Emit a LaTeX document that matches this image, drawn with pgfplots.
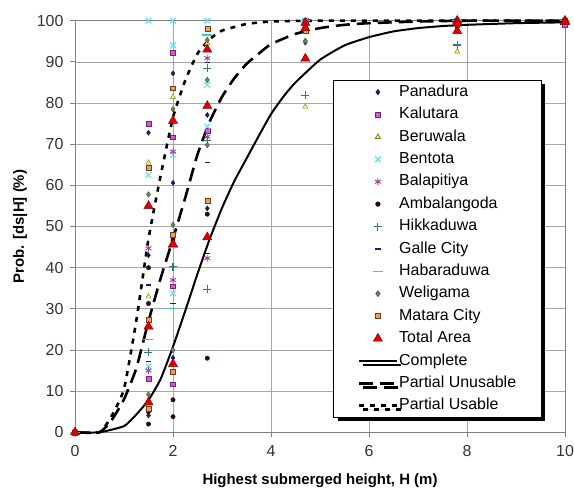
\documentclass[border=0pt]{standalone}
\usepackage{fontspec}
\setmainfont{Liberation Sans}
\usepackage{pgfplots}
\pgfplotsset{compat=1.18}
\usetikzlibrary{shadows}
\definecolor{gridGrey}{HTML}{A6A6A6}
\definecolor{axisGrey}{HTML}{808080}
\definecolor{cPanadura}{HTML}{1A1A66}
\definecolor{cKalutaraD}{HTML}{7A1F7A}
\definecolor{cKalutaraF}{HTML}{D05CD0}
\definecolor{cBeruwalaD}{HTML}{7A7A20}
\definecolor{cBeruwalaF}{HTML}{F2F07A}
\definecolor{cBentota}{HTML}{55E3F0}
\definecolor{cBalapitiya}{HTML}{9A3A9A}
\definecolor{cAmbalangoda}{HTML}{2A0A0A}
\definecolor{cHikkaduwa}{HTML}{2E7F70}
\definecolor{cGalle}{HTML}{1A1A80}
\definecolor{cHabaraduwa}{HTML}{3CC8D0}
\definecolor{cWeligama}{HTML}{4A5E3A}
\definecolor{cMataraD}{HTML}{7A3A10}
\definecolor{cMataraF}{HTML}{E8A060}
\definecolor{cTotalD}{HTML}{8A0000}
\definecolor{cTotalF}{HTML}{E00000}

\pgfplotsset{
  ptleg/.style={legend image code/.code={\draw[##1] plot[only marks] coordinates {(19bp,0bp)};}},
  lnleg/.style={legend image code/.code={\draw[##1] (0bp,0bp) -- (38bp,0bp);}},
}

\begin{document}
\begin{tikzpicture}
  \begin{axis}[
    scale only axis,
    width=490bp,
    height=411.6bp,
    xmin=0, xmax=10,
    ymin=0, ymax=100,
    xtick={0,2,4,6,8,10},
    ytick={0,10,...,100},
    axis lines=box,
    tick pos=left,
    tick align=outside,
    major tick length=5bp,
    tick style={draw=axisGrey, line width=0.8pt},
    axis line style={draw=axisGrey, line width=0.8pt},
    grid=major,
    major grid style={draw=gridGrey, line width=0.7pt},
    /pgf/number format/assume math mode=true,
    tick label style={font=\fontsize{16}{18}\selectfont, text=black!80},
    xticklabel style={yshift=-5bp},
    yticklabel style={xshift=-3bp},
    xlabel={\textbf{Highest submerged height, H (m)}},
    ylabel={\textbf{Prob. [ds|H] (\%)}},
    xlabel style={font=\fontsize{15}{17}\selectfont, at={(axis description cs:0.5,-0.1166)}, anchor=center},
    ylabel style={font=\fontsize{15}{17}\selectfont, at={(axis description cs:-0.1122,0.5)}, anchor=center},
    clip=false,
    legend cell align=left,
    legend style={
      at={(axis description cs:0.527,0.856)},
      anchor=north west,
      draw=black, line width=0.8pt, fill=white,
      drop shadow={shadow xshift=4bp, shadow yshift=-4bp, fill=black, opacity=1},
      font=\fontsize{16}{18}\selectfont,
      inner xsep=24bp, inner ysep=4bp,
      row sep=6.9bp,
      nodes={inner xsep=1bp, inner ysep=0bp, text height=12bp, text depth=3.5bp},
    },
  ]
    % Panadura
    \addplot[ptleg, only marks, mark=diamond*, mark size=2.6bp, draw=cPanadura, fill=cPanadura]
      coordinates {(0,0) (1.5,72.8) (1.5,43) (1.5,4.1) (2,87.2) (2,60.6) (2,18.1) (2.7,77.1) (2.7,54.4) (4.7,94.7) (4.7,100) (7.8,100) (10,100)};
    \addlegendentry{Panadura}
    % Kalutara
    \addplot[ptleg, only marks, mark=square*, mark size=2.4bp, draw=cKalutaraD, fill=cKalutaraF]
      coordinates {(0,0) (1.5,75) (1.5,13.1) (2,92.2) (2,71.7) (2,35.5) (2,11.7) (2.7,73.2) (4.7,100) (7.8,99) (10,99)};
    \addlegendentry{Kalutara}
    % Beruwala
    \addplot[ptleg, only marks, mark=triangle*, mark size=3bp, draw=cBeruwalaD, fill=cBeruwalaF]
      coordinates {(0,0) (1.5,65.5) (1.5,33) (1.5,6.6) (2,81.5) (2,46.3) (2.7,94.5) (4.7,95) (4.7,79.1) (7.8,92.5) (10,100)};
    \addlegendentry{Beruwala}
    % Bentota
    \addplot[ptleg, only marks, mark=x, mark size=4bp, draw=cBentota, line width=1.1pt]
      coordinates {(0,0) (1.5,100) (1.5,62.5) (1.5,16) (2,100) (2,94) (2,67.4) (2,33.8) (2.7,100) (2.7,84.4) (2.7,74.3) (4.7,100) (7.8,100) (10,100)};
    \addlegendentry{Bentota}
    % Balapitiya
    \addplot[ptleg, only marks, mark=asterisk, mark size=3.4bp, draw=cBalapitiya, line width=0.9pt]
      coordinates {(0,0) (1.5,44.7) (1.5,15) (2,68.2) (2,37) (2.7,90.9) (2.7,71.8) (2.7,42.3) (4.7,100) (7.8,100) (10,100)};
    \addlegendentry{Balapitiya}
    % Ambalangoda
    \addplot[ptleg, only marks, mark=*, mark size=2.2bp, draw=cAmbalangoda, fill=cAmbalangoda]
      coordinates {(0,0) (1.5,40) (1.5,31.3) (1.5,5) (1.5,2) (2,46.7) (2,7.9) (2,3.8) (2.7,53) (2.7,18) (4.7,98.5) (7.8,100) (10,100)};
    \addlegendentry{Ambalangoda}
    % Hikkaduwa
    \addplot[ptleg, only marks, mark=+, mark size=4bp, draw=cHikkaduwa, line width=1.1pt]
      coordinates {(0,0) (1.5,19.4) (2,40.2) (2.7,88.4) (2.7,70.9) (2.7,34.7) (4.7,81.9) (7.8,94.1) (10,100)};
    \addlegendentry{Hikkaduwa}
    % Galle City
    \addplot[ptleg, only marks, mark=-, mark size=2.6bp, draw=cGalle, line width=1.5pt]
      coordinates {(0,0) (1.5,35.8) (1.5,17.2) (2,31.3) (2.7,89.9) (2.7,65.5) (2.7,43.5) (4.7,100) (7.8,100) (10,100)};
    \addlegendentry{Galle City}
    % Habaraduwa
    \addplot[ptleg, only marks, mark=-, mark size=5bp, draw=cHabaraduwa, line width=1.3pt]
      coordinates {(0,0) (1.5,22.6) (2,45) (2,30.1) (2.7,96.5) (4.7,100) (7.8,100) (10,100)};
    \addlegendentry{Habaraduwa}
    % Weligama
    \addplot[ptleg, only marks, mark=diamond*, mark size=2.8bp, draw=cWeligama, fill=cWeligama!80]
      coordinates {(0,0) (1.5,57.8) (1.5,9.2) (2,78.5) (2,50.4) (2,20) (2.7,95.3) (2.7,85.6) (2.7,69.8) (4.7,95.1) (7.8,100) (10,100)};
    \addlegendentry{Weligama}
    % Matara City
    \addplot[ptleg, only marks, mark=square*, mark size=2.4bp, draw=cMataraD, fill=cMataraF]
      coordinates {(0,0) (1.5,64.3) (1.5,27.3) (1.5,5.8) (2,83.6) (2,48) (2,14.7) (2.7,98.1) (2.7,56.3) (4.7,97.5) (7.8,99) (10,100)};
    \addlegendentry{Matara City}
    % Total Area
    \addplot[ptleg, only marks, mark=triangle*, mark size=5.2bp, draw=cTotalD, fill=cTotalF, line width=0.5pt]
      coordinates {(0,0) (1.5,55) (1.5,25.7) (1.5,7.3) (2,75.7) (2,45.7) (2,16.6) (2.7,93) (2.7,79.3) (2.7,47.4) (4.7,99.5) (4.7,98.2) (4.7,90.8) (7.8,100) (7.8,99.3) (7.8,97.5) (10,100) (10,99.7)};
    \addlegendentry{Total Area}
    % Complete
    \addplot[lnleg, black, line width=2pt, no marks, smooth, tension=0.3]
      coordinates {(0,0) (0.5,0) (1,1.5) (1.25,4.3) (1.5,7.8) (1.75,13) (2,20.8) (2.25,29.5) (2.5,38.5) (2.75,47) (3,54.5) (3.25,61) (3.5,66.5) (3.75,72) (4,77.3) (4.25,81.5) (4.5,85) (5,90.5) (5.5,94) (6,96) (6.5,97.4) (7,98.2) (7.5,98.7) (8,99) (9,99.4) (10,99.6)};
    \addlegendentry{Complete}
    % Partial Unusable
    \addplot[lnleg, black, line width=2.6pt, no marks, dash pattern=on 14bp off 7bp, smooth, tension=0.3]
      coordinates {(0,0) (0.5,0) (0.75,3) (1,8) (1.25,15.5) (1.5,27) (1.75,37.5) (2,47) (2.25,57) (2.5,67.5) (2.75,75.5) (3,81.5) (3.25,86) (3.5,89.5) (3.75,92) (4,94.3) (4.5,96.8) (5,98.2) (5.5,99) (6,99.4) (7,99.8) (8,100) (10,100)};
    \addlegendentry{Partial Unusable}
    % Partial Usable
    \addplot[lnleg, black, line width=2.6pt, no marks, dash pattern=on 5bp off 6bp, smooth, tension=0.3]
      coordinates {(0,0) (0.5,0) (0.75,4) (1,10.5) (1.25,27) (1.5,47) (1.75,62.5) (2,76.5) (2.25,85.5) (2.5,92) (2.75,95.5) (3,97.6) (3.5,99.2) (4,99.8) (5,100) (10,100)};
    \addlegendentry{Partial Usable}
  \end{axis}
  \pgfresetboundingbox
  \path ([xshift=-75bp,yshift=-58.7bp]current axis.south west) rectangle ([xshift=9bp,yshift=20.7bp]current axis.north east);
\end{tikzpicture}
\end{document}
